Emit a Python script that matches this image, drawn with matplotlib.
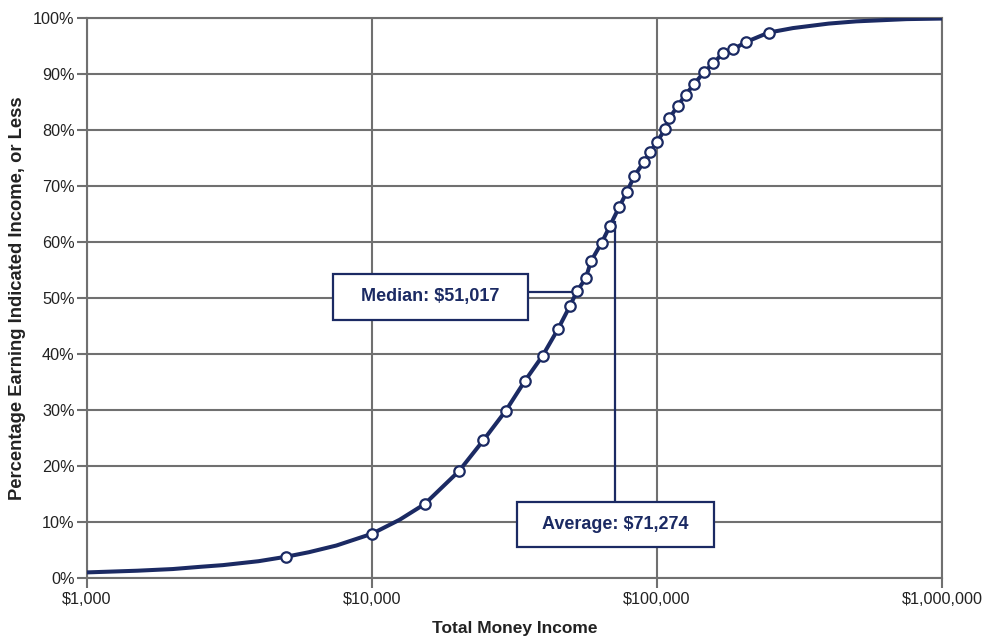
import matplotlib
matplotlib.use("Agg")
import matplotlib.pyplot as plt
from matplotlib.patches import Rectangle
from matplotlib.ticker import FixedLocator, NullLocator

plt.rcParams['font.family'] = ['Liberation Sans', 'DejaVu Sans']

# Marker points (income, cumulative percent)
marker_income = [5000, 10000, 15300, 20200, 24600, 29500, 34400, 39700, 45000, 49500,
                 52500, 56200, 58700, 64000, 68400, 73600, 78300, 83300, 90000, 94500,
                 100000, 106700, 110500, 118200, 126000, 135000, 146000, 157600, 170000,
                 185000, 205000, 246600]
marker_pct = [3.8, 7.9, 13.2, 19.1, 24.6, 29.9, 35.2, 39.7, 44.5, 48.6,
              51.3, 53.5, 56.6, 59.9, 62.9, 66.2, 68.9, 71.8, 74.3, 76.0,
              77.9, 80.1, 82.1, 84.3, 86.3, 88.2, 90.3, 91.9, 93.7,
              94.4, 95.7, 97.4]

# Extra points of the curve outside the marker range
low_tail_income = [1000, 1500, 2000, 2500, 3000, 4000]
low_tail_pct = [1.0, 1.3, 1.6, 2.0, 2.3, 3.0]
mid_income = [6000, 7500, 12500]
mid_pct = [4.6, 5.8, 10.4]
high_tail_income = [300000, 400000, 500000, 750000, 1000000]
high_tail_pct = [98.2, 99.0, 99.4, 99.8, 99.9]

median_value = 51017
median_pct = 51.0
average_value = 71274
average_pct = 63.6

x_ticks = [1000, 10000, 100000, 1000000]
x_tick_labels = ["$1,000", "$10,000", "$100,000", "$1,000,000"]
y_ticks = list(range(0, 101, 10))
y_tick_labels = [f"{v}%" for v in y_ticks]

navy = "#1b2a63"
grid_gray = "#707070"
text_col = "#222222"

# assemble the line
pts = sorted(list(zip(low_tail_income, low_tail_pct)) + list(zip(mid_income, mid_pct)) +
             list(zip(marker_income, marker_pct)) + list(zip(high_tail_income, high_tail_pct)))
line_x = [p[0] for p in pts]
line_y = [p[1] for p in pts]

fig = plt.figure(figsize=(9.95, 6.39), dpi=100)
ax = fig.add_axes([87/995, 61/639, 855/995, 560/639])
ax.set_xscale('log')
ax.set_xlim(1000, 1000000)
ax.set_ylim(0, 100)

ax.xaxis.set_major_locator(FixedLocator(x_ticks))
ax.xaxis.set_minor_locator(NullLocator())
ax.set_xticks(x_ticks)
ax.set_xticklabels(x_tick_labels)
ax.set_yticks(y_ticks)
ax.set_yticklabels(y_tick_labels)

ax.grid(True, color=grid_gray, linewidth=1.5, zorder=0)
ax.set_axisbelow(True)
for s in ax.spines.values():
    s.set_color(grid_gray)
    s.set_linewidth(1.5)
ax.tick_params(axis='both', direction='out', length=7, width=1.5, color=grid_gray,
               labelsize=11.7, labelcolor=text_col)
ax.tick_params(axis='y', pad=2)
ax.tick_params(axis='x', pad=3)

ax.plot(line_x, line_y, color=navy, linewidth=2.9, zorder=4, solid_capstyle='round')
ax.plot(marker_income, marker_pct, linestyle='none', marker='o', markersize=7.5,
        markerfacecolor='white', markeredgecolor=navy, markeredgewidth=1.6, zorder=5)

ax.set_xlabel("Total Money Income", fontsize=12.5, fontweight='bold', color=text_col, labelpad=10)
ax.set_ylabel("Percentage Earning Indicated Income, or Less", fontsize=13.2,
              fontweight='bold', color=text_col, labelpad=5)

# Median annotation
mb = (0.2877, 0.4607, 0.2281, 0.0822)
ax.add_patch(Rectangle((mb[0], mb[1]), mb[2], mb[3], transform=ax.transAxes,
                       facecolor='white', edgecolor=navy, linewidth=1.6, zorder=6))
ax.text(mb[0] + mb[2] / 2, mb[1] + mb[3] / 2, "Median: $51,017", transform=ax.transAxes,
        ha='center', va='center', fontsize=13, fontweight='bold', color=navy, zorder=7)
box_right_x = 10 ** (3 + 3 * (mb[0] + mb[2]))
ax.plot([box_right_x, median_value], [median_pct, median_pct], color=navy, linewidth=1.6, zorder=3)

# Average annotation
ab = (0.5029, 0.0554, 0.2304, 0.0803)
ax.add_patch(Rectangle((ab[0], ab[1]), ab[2], ab[3], transform=ax.transAxes,
                       facecolor='white', edgecolor=navy, linewidth=1.6, zorder=6))
ax.text(ab[0] + ab[2] / 2, ab[1] + ab[3] / 2, "Average: $71,274", transform=ax.transAxes,
        ha='center', va='center', fontsize=13, fontweight='bold', color=navy, zorder=7)
ax.plot([average_value, average_value], [(ab[1] + ab[3]) * 100, average_pct], color=navy,
        linewidth=1.6, zorder=3)

fig.savefig("out.png", dpi=100)
